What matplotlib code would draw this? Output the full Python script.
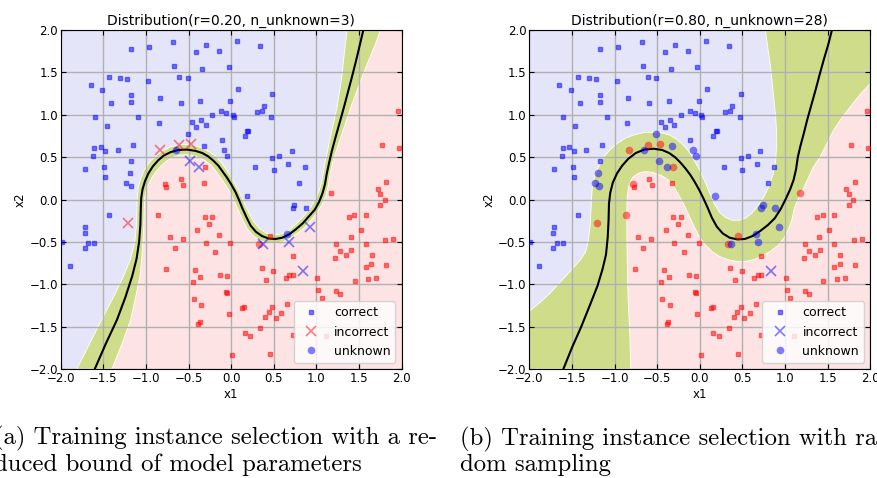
# plot.py
# Two panels: selected training instances on a 2D toy problem, with the
# learned decision boundary (black), the uncertain band (green) and the
# two class regions.

import matplotlib.pyplot as plt

# ---- data points shared by both panels ----
# class 0 (blue) points that are "correct" in both panels
blue_x = [-1.17, -0.96, -0.68, -0.41, -0.29, -0.14, 0.07, 0.34, -0.67, -0.34, -0.03,
          -1.43, -1.30, -1.22, -0.61, -0.51, -0.97, -1.65, -1.51, 0.08, -1.17, 0.48,
          -0.84, -1.17, -1.41, -0.59, -0.36, -0.01, 0.38, 0.36, -0.12, -0.06, -0.22,
          0.02, 0.03, 0.30, 0.47, -1.60, -1.09, -0.35, -0.46, -0.30, -0.41, -0.85,
          -1.46, 0.19, 0.20, 0.16, -0.11, -1.61, -1.53, -1.48, -1.62, -1.33, -1.15,
          0.56, 0.48, 0.71, -1.17, -1.49, -1.71, 0.28, 0.67, 0.87, 0.50, -1.48, 0.80,
          -1.43, -1.71, -1.72, -1.68, -1.61, -1.72, -1.99, -1.89]
blue_y = [1.78, 1.80, 1.86, 1.74, 1.82, 1.75, 1.87, 1.81, 1.58, 1.54, 1.56,
          1.45, 1.44, 1.42, 1.45, 1.43, 1.40, 1.35, 1.29, 1.31, 1.24, 1.25,
          1.20, 1.15, 1.14, 1.14, 1.16, 1.16, 1.11, 1.05, 1.05, 1.02, 1.00,
          1.00, 0.98, 1.03, 0.97, 0.98, 0.97, 0.94, 0.91, 0.88, 0.86, 0.90,
          0.87, 0.81, 0.81, 0.75, 0.70, 0.61, 0.62, 0.57, 0.52, 0.59, 0.64,
          0.51, 0.49, 0.57, 0.46, 0.39, 0.36, 0.39, 0.42, 0.38, 0.35, 0.27, 0.20,
          -0.18, -0.32, -0.39, -0.51, -0.51, -0.57, -0.50, -0.79]

# class 1 (red) points that are "correct" in both panels
red_x = [1.96, 1.97, 1.77, 1.82, 1.72, 1.75, 1.80, 1.75, -0.59, -0.77, -0.56, -0.32,
         -0.31, -0.22, -0.26, -0.40, -0.14, -0.72, -0.57, -0.30, -0.01, -0.66, -0.19,
         -0.76, -0.42, -0.36, -0.45, -0.13, -0.05, 0.36, 0.49, 0.41, 0.64, 0.68, 0.72,
         0.72, 1.01, 1.02, 1.06, 1.23, 1.28, 1.23, 1.44, 1.38, 1.58, 1.52, 1.40, 1.28,
         1.35, 1.22, 1.41, 1.58, 1.65, 1.64, 1.58, 1.81, 1.90, 1.82, 1.61, 1.70, 1.45,
         -0.06, -0.05, -0.44, -0.35, -0.03, 0.13, 0.15, 0.48, 0.66, 0.59, 0.44, 0.40,
         0.52, -0.39, -0.37, 0.34, 0.16, 0.22, 0.72, 1.11, 0.45, 0.01]
red_y = [1.05, 0.61, 0.64, 0.21, 0.12, 0.07, 0.00, -0.06, 0.24, 0.15, 0.17, 0.19,
         -0.21, -0.21, -0.29, -0.36, -0.42, -0.44, -0.47, -0.51, -0.51, -0.57, -0.62,
         -0.82, -0.83, -0.91, -0.97, -0.89, -0.90, -0.81, -0.84, -0.95, -0.92, -0.89, -0.89,
         -0.67, -0.92, -1.07, -1.16, -1.08, -1.11, -0.52, -0.18, -0.20, -0.18, -0.36, -0.44, -0.61,
         -0.65, -0.69, -0.59, -0.53, -0.66, -0.76, -0.80, -0.48, -0.46, -0.77, -0.94, -0.93, -0.96,
         -1.09, -1.10, -1.17, -1.24, -1.35, -1.28, -1.27, -1.27, -1.23, -1.34, -1.33, -1.39,
         -1.40, -1.47, -1.45, -1.52, -1.58, -1.61, -1.60, -1.61, -1.82, -1.84]

# points near the boundary, status per panel: c=correct, i=incorrect, u=unknown
blue_edge_x = [-0.51, -0.65, -0.32, -0.08, -0.05, -0.48, -0.38, -1.19, -1.23, -1.18,
               0.18, 0.74, 0.72, 0.88, 0.93, 0.66, 0.37, 0.68, 0.84]
blue_edge_y = [0.77, 0.58, 0.63, 0.59, 0.51, 0.46, 0.38, 0.31, 0.19, 0.16,
               0.04, -0.06, -0.10, -0.10, -0.32, -0.41, -0.53, -0.50, -0.84]
blue_edge_a = "cucccii" + "ccc" + "cccciuiii"
blue_edge_b = "uuuuuuu" + "uuu" + "uuuuuuuui"

red_edge_x = [-0.83, -0.61, -0.47, -0.31, -0.78, -0.86, -1.21, 0.45, 0.33, 1.17]
red_edge_y = [0.58, 0.64, 0.65, 0.39, 0.18, -0.18, -0.28, -0.43, -0.53, 0.08]
red_edge_a = "iiicccicuc"
red_edge_b = "uuuuuuuuuu"

# ---- decision boundary and uncertain band, panel (a) ----
bound_a_x = [-1.60, -1.47, -1.34, -1.24, -1.16, -1.11, -1.08, -1.065, -1.06, -1.055, -1.04,
             -1.01, -0.97, -0.92, -0.86, -0.79, -0.71, -0.62, -0.52, -0.42, -0.34, -0.27,
             -0.21, -0.15, -0.10, -0.05, 0.00, 0.05, 0.09, 0.13, 0.18, 0.23, 0.29, 0.36,
             0.44, 0.52, 0.60, 0.68, 0.76, 0.84, 0.91, 0.98, 1.03, 1.07, 1.10, 1.12, 1.15,
             1.18, 1.22, 1.27, 1.32, 1.37, 1.42, 1.47, 1.51, 1.55]
bound_a_y = [-2.00, -1.70, -1.42, -1.15, -0.90, -0.70, -0.50, -0.30, -0.10, 0.02, 0.12,
             0.22, 0.31, 0.39, 0.46, 0.52, 0.56, 0.585, 0.59, 0.575, 0.55, 0.51,
             0.46, 0.40, 0.33, 0.26, 0.18, 0.09, 0.00, -0.10, -0.21, -0.31, -0.38, -0.43,
             -0.46, -0.465, -0.45, -0.41, -0.35, -0.28, -0.20, -0.12, -0.03, 0.07, 0.18, 0.30, 0.44,
             0.57, 0.72, 0.90, 1.08, 1.27, 1.46, 1.66, 1.83, 2.00]
band_a_blue_x = [-1.81, -1.66, -1.52, -1.38, -1.26, -1.18, -1.13, -1.11, -1.105, -1.10, -1.09,
                 -1.06, -1.02, -0.96, -0.89, -0.81, -0.72, -0.62, -0.52, -0.42, -0.33, -0.25,
                 -0.18, -0.12, -0.06, -0.01, 0.04, 0.09, 0.13, 0.17, 0.22, 0.27, 0.33, 0.40,
                 0.47, 0.54, 0.61, 0.68, 0.75, 0.82, 0.88, 0.94, 0.99, 1.03, 1.06, 1.08, 1.10,
                 1.13, 1.16, 1.20, 1.24, 1.27, 1.30, 1.32, 1.34, 1.36]
band_a_blue_y = [-2.00, -1.70, -1.42, -1.15, -0.90, -0.70, -0.50, -0.30, -0.10, 0.02, 0.14,
                 0.25, 0.35, 0.44, 0.51, 0.57, 0.62, 0.645, 0.65, 0.635, 0.605, 0.56,
                 0.51, 0.44, 0.36, 0.28, 0.19, 0.10, 0.01, -0.08, -0.18, -0.27, -0.34, -0.39,
                 -0.41, -0.415, -0.40, -0.36, -0.30, -0.23, -0.16, -0.08, 0.01, 0.10, 0.20, 0.31, 0.44,
                 0.57, 0.72, 0.90, 1.08, 1.27, 1.46, 1.66, 1.83, 2.00]
band_a_red_x = [-1.40, -1.28, -1.18, -1.12, -1.07, -1.05, -1.035, -1.025, -1.02, -1.015, -1.00,
                -0.97, -0.93, -0.88, -0.82, -0.75, -0.68, -0.60, -0.52, -0.43, -0.36, -0.30,
                -0.24, -0.19, -0.14, -0.09, -0.04, 0.01, 0.05, 0.09, 0.14, 0.19, 0.25, 0.33,
                0.42, 0.51, 0.60, 0.69, 0.77, 0.86, 0.94, 1.01, 1.07, 1.11, 1.14, 1.16, 1.19,
                1.23, 1.28, 1.34, 1.40, 1.47, 1.54, 1.62, 1.69, 1.75]
band_a_red_y = [-2.00, -1.70, -1.42, -1.15, -0.90, -0.70, -0.50, -0.30, -0.10, 0.02, 0.10,
                0.18, 0.26, 0.33, 0.40, 0.46, 0.50, 0.525, 0.53, 0.515, 0.49, 0.455,
                0.41, 0.35, 0.28, 0.21, 0.13, 0.04, -0.05, -0.14, -0.25, -0.35, -0.42, -0.48,
                -0.51, -0.515, -0.50, -0.46, -0.40, -0.33, -0.24, -0.15, -0.05, 0.05, 0.17, 0.30, 0.44,
                0.57, 0.72, 0.90, 1.08, 1.27, 1.46, 1.66, 1.83, 2.00]

# ---- decision boundary and uncertain band, panel (b) ----
bound_b_x = [-1.60, -1.50, -1.39, -1.29, -1.20, -1.14, -1.10, -1.08, -1.07, -1.065, -1.05,
             -1.02, -0.97, -0.91, -0.84, -0.75, -0.65, -0.54, -0.44, -0.36, -0.29, -0.23,
             -0.17, -0.11, -0.06, -0.01, 0.04, 0.09, 0.14, 0.20, 0.27, 0.35, 0.44, 0.53,
             0.62, 0.71, 0.80, 0.88, 0.95, 1.01, 1.06, 1.10, 1.13, 1.15, 1.18, 1.22, 1.26,
             1.31, 1.36, 1.41, 1.46, 1.51, 1.55]
bound_b_y = [-2.00, -1.75, -1.50, -1.25, -1.02, -0.82, -0.65, -0.45, -0.25, -0.05, 0.08,
             0.20, 0.31, 0.40, 0.48, 0.55, 0.59, 0.60, 0.585, 0.55, 0.50, 0.44,
             0.37, 0.29, 0.21, 0.12, 0.02, -0.09, -0.21, -0.32, -0.40, -0.45, -0.47, -0.465,
             -0.43, -0.37, -0.30, -0.22, -0.11, 0.01, 0.12, 0.23, 0.36, 0.50, 0.63, 0.78, 0.94,
             1.12, 1.30, 1.49, 1.67, 1.84, 2.00]
band_b_blue_x = [-2.00, -1.88, -1.76, -1.66, -1.56, -1.47, -1.40, -1.34, -1.31, -1.29, -1.28,
                 -1.27, -1.26, -1.23, -1.18, -1.12, -1.05, -0.97, -0.88, -0.78, -0.66, -0.54,
                 -0.44, -0.35, -0.27, -0.20, -0.13, -0.08, -0.03, 0.02, 0.07, 0.12, 0.17, 0.23,
                 0.30, 0.38, 0.46, 0.54, 0.61, 0.68, 0.75, 0.81, 0.86, 0.89, 0.90, 0.90, 0.89,
                 0.87, 0.85, 0.83, 0.80, 0.77]
band_b_blue_y = [-1.32, -1.22, -1.11, -1.00, -0.89, -0.79, -0.71, -0.62, -0.50, -0.35, -0.20,
                 0.00, 0.15, 0.28, 0.40, 0.51, 0.59, 0.66, 0.72, 0.76, 0.79, 0.795,
                 0.785, 0.76, 0.71, 0.65, 0.57, 0.49, 0.40, 0.30, 0.19, 0.07, -0.05, -0.15,
                 -0.21, -0.245, -0.245, -0.22, -0.16, -0.08, 0.03, 0.15, 0.30, 0.45, 0.62, 0.80, 0.98,
                 1.18, 1.38, 1.57, 1.78, 2.00]
band_b_red_x = [-0.81, -0.82, -0.84, -0.85, -0.855, -0.855, -0.85, -0.83, -0.79, -0.72, -0.64,
                -0.55, -0.46, -0.38, -0.31, -0.25, -0.19, -0.13, -0.07, -0.01, 0.06, 0.14,
                0.23, 0.33, 0.43, 0.53, 0.63, 0.73, 0.83, 0.92, 0.99, 1.04, 1.08, 1.11,
                1.15, 1.21, 1.27, 1.33, 1.41, 1.49, 1.57, 1.67, 1.77, 1.88, 2.00]
band_b_red_y = [-2.00, -1.60, -1.19, -0.80, -0.40, -0.10, 0.05, 0.17, 0.26, 0.31, 0.33,
                0.32, 0.29, 0.24, 0.16, 0.06, -0.05, -0.18, -0.31, -0.43, -0.53, -0.61,
                -0.67, -0.71, -0.73, -0.73, -0.71, -0.67, -0.61, -0.54, -0.45, -0.35, -0.24, -0.10,
                0.00, 0.12, 0.25, 0.38, 0.50, 0.66, 0.82, 0.97, 1.10, 1.24, 1.37]

panels = [
    dict(title="Distribution(r=0.20, n_unknown=3)",
         caption="(a) Training instance selection with a re-\nduced bound of model parameters",
         blue_status=blue_edge_a, red_status=red_edge_a,
         bound=(bound_a_x, bound_a_y),
         band_blue=(band_a_blue_x, band_a_blue_y), band_red=(band_a_red_x, band_a_red_y)),
    dict(title="Distribution(r=0.80, n_unknown=28)",
         caption="(b) Training instance selection with ran-\ndom sampling",
         blue_status=blue_edge_b, red_status=red_edge_b,
         bound=(bound_b_x, bound_b_y),
         band_blue=(band_b_blue_x, band_b_blue_y), band_red=(band_b_red_x, band_b_red_y)),
]

BLUE_BG = "#e5e5fa"
RED_BG = "#fde3e3"
BAND = "#cfdd8a"


def pick(xs, ys, status, s):
    px = [x for x, st in zip(xs, status) if st == s]
    py = [y for y, st in zip(ys, status) if st == s]
    return px, py


def draw_panel(ax, p):
    ax.set_xlim(-2, 2)
    ax.set_ylim(-2, 2)

    # background: pink everywhere, blue region on the upper-left of the band
    ax.fill([-2, 2, 2, -2], [-2, -2, 2, 2], color=RED_BG, lw=0, zorder=0.5)
    bx, by = p["band_blue"]
    rx, ry = p["band_red"]
    corners = [(-2, 2), (-2, -2)] if by[0] == -2.0 else [(-2, 2)]
    ax.fill(list(bx) + [c[0] for c in corners], list(by) + [c[1] for c in corners],
            color=BLUE_BG, lw=0, zorder=0.6)

    # uncertain band between its two edges
    gx = list(bx) + ([2.0] if rx[-1] == 2.0 else []) + list(rx[::-1])
    gy = list(by) + ([2.0] if rx[-1] == 2.0 else []) + list(ry[::-1])
    if bx[0] == -2.0:
        gx.append(-2.0)
        gy.append(-2.0)
    ax.fill(gx, gy, facecolor=BAND, edgecolor="white", lw=0.6, zorder=0.7)

    ax.plot(*p["bound"], color="black", lw=1.5, zorder=2.2)

    # points
    h_corr, = ax.plot(blue_x, blue_y, "s", color="blue", ms=2.6, mew=1.0, alpha=0.5, zorder=3)
    ax.plot(red_x, red_y, "s", color="red", ms=2.6, mew=1.0, alpha=0.5, zorder=3)
    handles = {}
    for xs, ys, st, col in [(red_edge_x, red_edge_y, p["red_status"], "red"),
                            (blue_edge_x, blue_edge_y, p["blue_status"], "blue")]:
        cx, cy = pick(xs, ys, st, "c")
        ax.plot(cx, cy, "s", color=col, ms=2.6, mew=1.0, alpha=0.5, zorder=3)
        ix, iy = pick(xs, ys, st, "i")
        if ix:
            h, = ax.plot(ix, iy, "x", color=col, ms=6.5, mew=1.2, alpha=0.5, zorder=3)
            handles.setdefault("i", h)
        ux, uy = pick(xs, ys, st, "u")
        if ux:
            h, = ax.plot(ux, uy, "o", color=col, ms=5.5, mew=0, alpha=0.5, zorder=3)
            if col == "blue":
                handles["u"] = h

    ax.legend([h_corr, handles["i"], handles["u"]], ["correct", "incorrect", "unknown"],
              loc="lower right", fontsize=9)

    ax.set_title(p["title"], fontsize=10, pad=4)
    ax.set_xlabel("x1", fontsize=8.5, labelpad=2)
    ax.set_ylabel("x2", fontsize=8.5, labelpad=2)
    ax.set_xticks([-2, -1.5, -1, -0.5, 0, 0.5, 1, 1.5, 2])
    ax.set_yticks([-2, -1.5, -1, -0.5, 0, 0.5, 1, 1.5, 2])
    ax.tick_params(direction="in", top=True, right=True, labelsize=8.5, length=3.5, pad=2)
    ax.grid(True, color="#b0b0b0", lw=1.0)


def plot():
    fig = plt.figure(figsize=(8.78, 4.78), dpi=100)
    ax_a = fig.add_axes([0.0691, 0.228, 0.3884, 0.709])
    ax_b = fig.add_axes([0.6028, 0.228, 0.3884, 0.709])

    for ax, p in zip([ax_a, ax_b], panels):
        draw_panel(ax, p)

    # sub-figure captions in a LaTeX-like serif (baseline of the last line)
    fig.text(-6 / 878, 1 - 471.5 / 478, panels[0]["caption"], family="cmr10", fontsize=17.8,
             ha="left", va="baseline", linespacing=1.15)
    fig.text(460 / 878, 1 - 471.5 / 478, panels[1]["caption"], family="cmr10", fontsize=17.8,
             ha="left", va="baseline", linespacing=1.15)

    fig.savefig("out.png", dpi=100)


if __name__ == "__main__":
    plot()
